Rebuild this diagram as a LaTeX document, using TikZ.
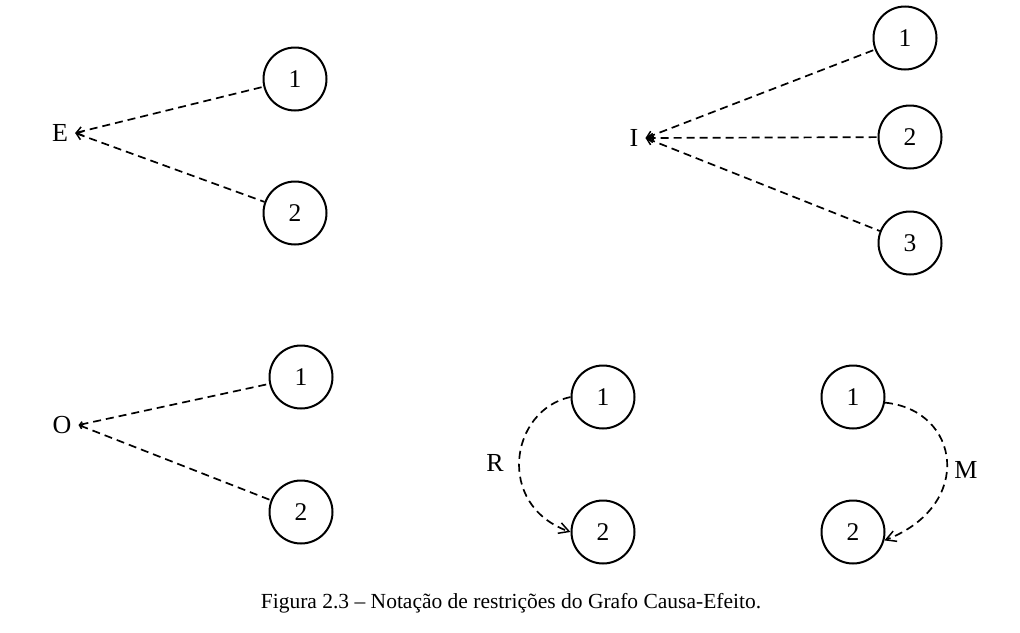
\documentclass[tikz,border=0pt]{standalone}
\usepackage{fontspec}
\setmainfont{Liberation Serif}
\usetikzlibrary{arrows.meta}
\begin{document}
\begin{tikzpicture}[x=1pt,y=-1pt,
  st/.style={circle,draw,line width=2pt,minimum size=63pt,inner sep=0pt,font=\fontsize{25.5}{28}\selectfont},
  lb/.style={inner sep=7pt,font=\fontsize{26}{28}\selectfont},
  con/.style={line width=1.7pt,dash pattern=on 8pt off 5pt},
  tipl/.style={{Straight Barb[length=6pt,width=9pt,line width=1.5pt]}-},
  tips/.style={{Straight Barb[length=3pt,width=5pt,line width=1.5pt]}-},
  tipr/.style={-{Straight Barb[length=10pt,width=11pt,line width=1.5pt]}}]
\useasboundingbox (0,0) rectangle (1020,632);
% E
\node[lb] (E) at (60,133) {E};
\node[st] (e1) at (295,79) {1};
\node[st] (e2) at (295,213) {2};
\draw[con,tipl] (E.east) -- (e1);
\draw[con,tipl] (E.east) -- (e2);
% I
\node[lb] (I) at (634,138) {I};
\node[st] (i1) at (905,38) {1};
\node[st] (i2) at (910,137) {2};
\node[st] (i3) at (910,243) {3};
\draw[con,tipl] (I.east) -- (i1);
\draw[con,tipl] (I.east) -- (i2);
\draw[con,tipl] (I.east) -- (i3);
% O
\node[lb] (O) at (62,425) {O};
\node[st] (o1) at (301,377) {1};
\node[st] (o2) at (301,512) {2};
\draw[con,tips] (O.east) -- (o1);
\draw[con,tips] (O.east) -- (o2);
% R
\node[st] (r1) at (603,397) {1};
\node[st] (r2) at (603,532) {2};
\node[lb] (R) at (495,463) {R};
\draw[con,tipr] (r1.west) .. controls (510,410) and (495,505) .. (r2.west);
% M
\node[st] (m1) at (853,397) {1};
\node[st] (m2) at (853,532) {2};
\node[lb] (M) at (966,470) {M};
\draw[con,tipr] (m1.-10) .. controls (960,410) and (975,505) .. (m2.-15);
% caption
\node[inner sep=0pt,font=\fontsize{21.5}{25}\selectfont] (cap) at (511,603) {Figura 2.3 – Notação de restrições do Grafo Causa-Efeito.};
\end{tikzpicture}
\end{document}
